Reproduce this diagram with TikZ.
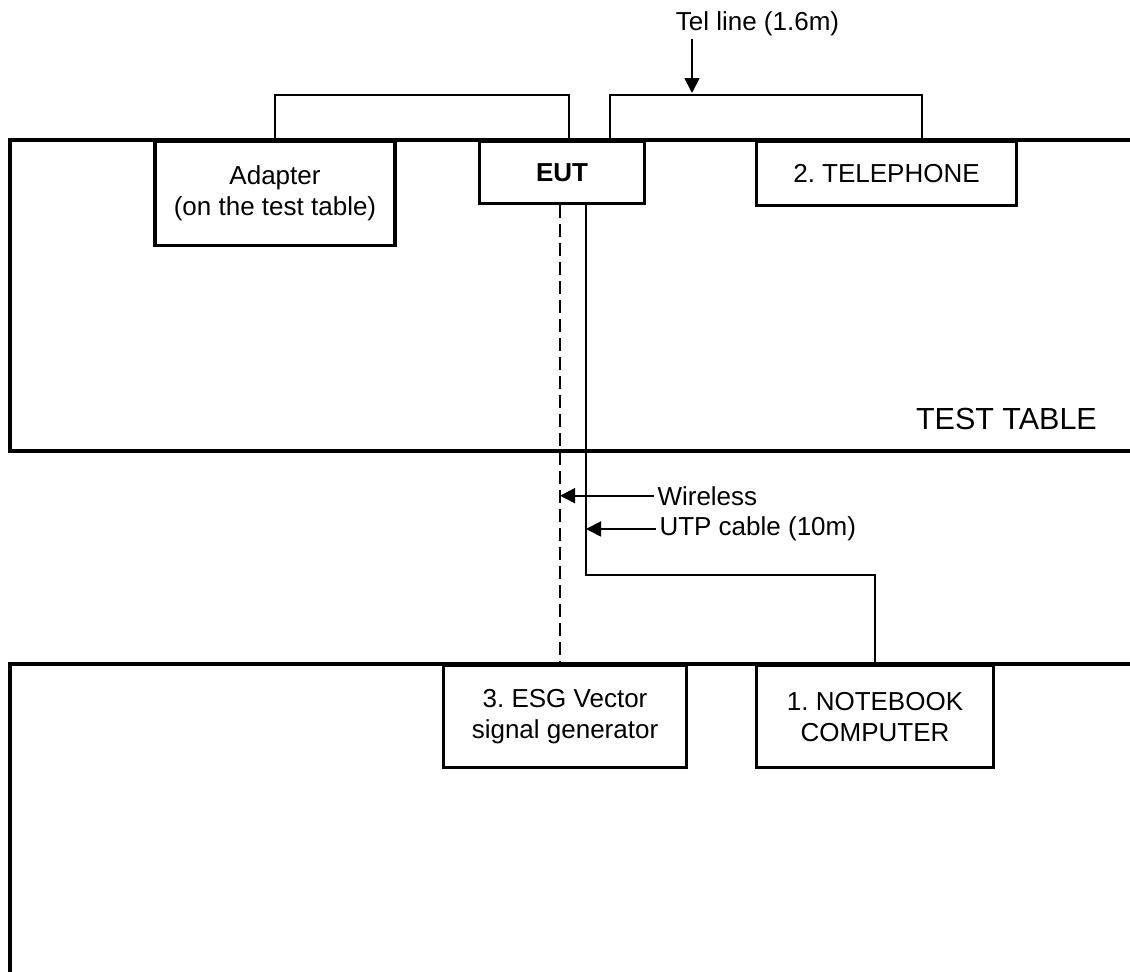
\documentclass[tikz,border=0pt]{standalone}
\usepackage{fontspec}
\setmainfont{Liberation Sans}
\usetikzlibrary{arrows.meta}
\newcommand{\lbl}{\fontsize{26}{31}\selectfont}
\newcommand{\ttl}{\fontsize{30.5}{36}\selectfont}
\frenchspacing
\tikzset{
  tabletop/.style={line width=4pt},
  unit/.style={draw,line width=3.3pt,align=center,font=\lbl,anchor=north,inner sep=0pt},
  cable/.style={line width=1.7pt},
  wireless/.style={line width=1.7pt,dash pattern=on 13pt off 6pt},
  pointer/.style={line width=1.8pt,-{Triangle[length=15pt,width=15pt]}},
  note/.style={font=\lbl,anchor=base west}
}

\begin{document}
\begin{tikzpicture}[x=1pt,y=-1pt]
  \useasboundingbox (0,0) rectangle (1130,972);
  \draw[tabletop] (1140,140) -- (10,140) -- (10,451) -- (1140,451);
  \draw[tabletop] (1140,664) -- (10,664) -- (10,980);
  \node[font=\ttl,anchor=base east,inner sep=0pt] (testtable) at (1097,429) {TEST TABLE};

  \node[unit,minimum width=240pt,minimum height=104pt] (adapter) at (275,140) {Adapter\\(on the test table)};
  \node[unit,minimum width=165pt,minimum height=62pt,font=\lbl\bfseries] (eut) at (562,140) {EUT};
  \node[unit,minimum width=260pt,minimum height=64pt] (phone) at (886.5,140) {2. TELEPHONE};
  \node[unit,minimum width=243pt,minimum height=102pt] (esg) at (565,664) {3. ESG Vector\\signal generator};
  \node[unit,minimum width=237pt,minimum height=102pt] (notebook) at (875,664) {1. NOTEBOOK\\COMPUTER};

  \draw[cable] (adapter.north) -- ++(0,-45) -| ([xshift=7pt]eut.north);
  \draw[cable] ([xshift=48pt]eut.north) -- ++(0,-45) -| ([xshift=35.5pt]phone.north);
  \coordinate (telpoint) at (692,93);
  \node[font=\lbl,anchor=base] (telline) at (757.5,30) {Tel line (1.6m)};
  \draw[pointer] (telline.south -| telpoint) -- (telpoint);

  \coordinate (wstart) at ([xshift=-2pt]eut.south);
  \coordinate (ustart) at ([xshift=24pt]eut.south);
  \draw[wireless] (wstart) -- (wstart |- esg.north);
  \draw[cable] (ustart) -- ++(0,370) -| (notebook.north);

  \node[note] (wlabel) at (654,505) {Wireless};
  \node[note] (ulabel) at (656,535.7) {UTP cable (10m)};
  \draw[pointer] (wlabel.west) -- (wlabel.west -| wstart);
  \draw[pointer] (ulabel.west) -- (ulabel.west -| ustart);
\end{tikzpicture}
\end{document}
